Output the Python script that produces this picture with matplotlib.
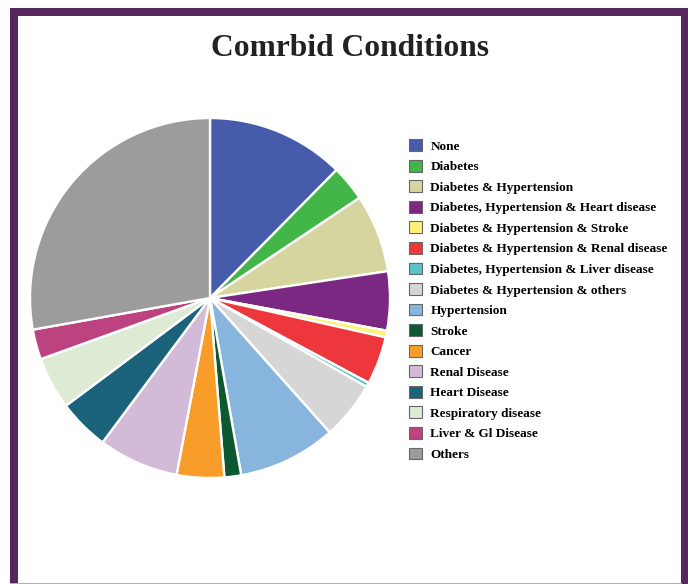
import matplotlib
matplotlib.use("Agg")
import matplotlib.pyplot as plt
from matplotlib.patches import Patch, Rectangle

# comorbidity shares (%)
labels = ["None", "Diabetes", "Diabetes & Hypertension",
          "Diabetes, Hypertension & Heart disease",
          "Diabetes & Hypertension & Stroke",
          "Diabetes & Hypertension & Renal disease",
          "Diabetes, Hypertension & Liver disease",
          "Diabetes & Hypertension & others",
          "Hypertension", "Stroke", "Cancer", "Renal Disease",
          "Heart Disease", "Respiratory disease", "Liver & Gl Disease", "Others"]
values = [12.4, 3.2, 7.0, 5.3, 0.6, 4.3, 0.4, 5.2,
          8.8, 1.5, 4.25, 7.2, 4.6, 4.7, 2.7, 27.8]
colors = ["#465BA9", "#42B649", "#D7D59F", "#7A2882", "#FEF17A", "#EE363D",
          "#5BC3C7", "#D6D6D6", "#88B5DD", "#0C5830", "#F89D2A", "#D4BAD9",
          "#1A637B", "#DDEBD5", "#BC4380", "#9C9C9C"]

W, H = 688, 584
fig = plt.figure(figsize=(W / 100, H / 100), dpi=100)
fig.patch.set_facecolor("white")

# purple frame
purple = "#56275E"
for (x0, y0, w, h) in [(9.5, 0, 8, H - 7.5), (681, 0, 8, H - 7.5),
                       (9.5, H - 15.7, 680, 8.2)]:
    fig.patches.append(Rectangle((x0 / W, y0 / H), w / W, h / H,
                                 transform=fig.transFigure, facecolor=purple,
                                 edgecolor="none", zorder=-1))
fig.patches.append(Rectangle((9.5 / W, 0), 672 / W, 1.2 / H, transform=fig.transFigure,
                             facecolor="#B8A8BC", edgecolor="none", zorder=-1))

fig.text(350 / W, 1 - 49 / H, "Comrbid Conditions", ha="center", va="center",
         fontsize=22.7, fontweight="bold", family="Liberation Serif", color="#222222")

cx, cy, r = 210, 298, 180
ax = fig.add_axes([(cx - r) / W, (H - cy - r) / H, 2 * r / W, 2 * r / H])
ax.pie(values, colors=colors, startangle=90, counterclock=False,
       wedgeprops=dict(edgecolor="white", linewidth=1.7))
ax.set_xlim(-1.0, 1.0)
ax.set_ylim(-1.0, 1.0)
ax.set_aspect("equal")
ax.axis("off")

handles = [Patch(facecolor=c, edgecolor="#666666", linewidth=0.8) for c in colors]
fig.legend(handles, labels, loc="upper left", bbox_to_anchor=(404 / W, 1 - 134 / H),
           frameon=False, handlelength=1.0, handleheight=1.0, handletextpad=0.6,
           labelspacing=0.54, borderaxespad=0,
           prop=dict(family="Liberation Serif", weight="bold", size=9.5))

fig.savefig("out.png", dpi=100)
